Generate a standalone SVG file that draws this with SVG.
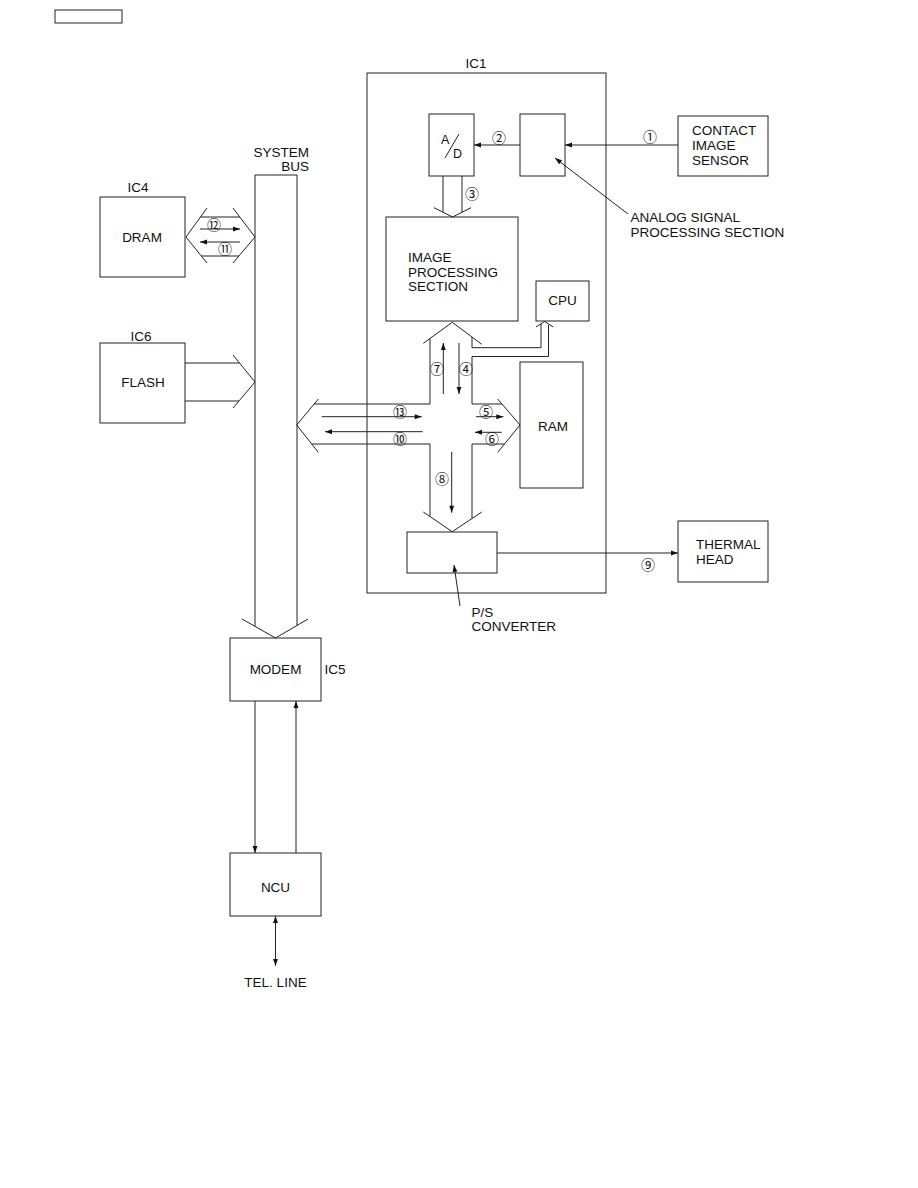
<svg xmlns="http://www.w3.org/2000/svg" width="918" height="1188" viewBox="0 0 918 1188">
<defs>
<style>
.b{fill:none;stroke:#222;stroke-width:1}
.l{fill:none;stroke:#222;stroke-width:1}
.t{font-family:"Liberation Sans",Arial,sans-serif;font-size:13.5px;fill:#111}
.m{text-anchor:middle}
.n{font-family:"Noto Sans CJK JP","DejaVu Sans",sans-serif;font-size:14px;fill:#111;text-anchor:middle;dominant-baseline:central}
</style>
<marker id="ah" viewBox="0 0 10 10" refX="10" refY="5" markerWidth="9" markerHeight="7" markerUnits="userSpaceOnUse" orient="auto-start-reverse">
<path d="M0,1.5 L10,5 L0,8.5 Z" fill="#111"/>
</marker>
</defs>
<rect width="918" height="1188" fill="#fff"/>

<g id="top-box"><rect class="b" x="55" y="10" width="67" height="13"/></g>

<g id="ic1"><rect class="b" x="367" y="73" width="239" height="520"/><text class="t m" x="476" y="68">IC1</text></g>

<g id="ad"><rect class="b" x="429" y="114" width="45" height="62"/>
<text class="t" x="441" y="143.5" style="font-size:12.5px">A</text>
<line class="l" x1="445" y1="158" x2="459" y2="134"/>
<text class="t" x="453" y="157.5" style="font-size:12.5px">D</text></g>

<g id="analog"><rect class="b" x="520" y="114" width="45" height="62"/>
<text class="t" x="630.5" y="222">ANALOG SIGNAL</text>
<text class="t" x="630.5" y="237">PROCESSING SECTION</text></g>

<g id="cis"><rect class="b" x="678" y="116" width="90" height="60"/>
<text class="t" x="692" y="135">CONTACT</text>
<text class="t" x="692" y="150">IMAGE</text>
<text class="t" x="692" y="165">SENSOR</text></g>

<g id="ips"><rect class="b" x="386" y="217" width="132" height="104"/>
<text class="t" x="408" y="262">IMAGE</text>
<text class="t" x="408" y="276.5">PROCESSING</text>
<text class="t" x="408" y="291">SECTION</text></g>

<g id="cpu"><rect class="b" x="536" y="281" width="53" height="40"/><text class="t m" x="562.5" y="305">CPU</text></g>

<g id="ram"><rect class="b" x="520" y="362" width="63" height="126"/><text class="t m" x="553" y="431">RAM</text></g>

<g id="ps"><rect class="b" x="407" y="532" width="90" height="41"/>
<text class="t" x="471.5" y="617">P/S</text>
<text class="t" x="471.5" y="631">CONVERTER</text></g>

<g id="thermal"><rect class="b" x="678" y="521" width="90" height="61"/>
<text class="t" x="696" y="549">THERMAL</text>
<text class="t" x="696" y="564">HEAD</text></g>

<g id="dram"><rect class="b" x="100" y="197" width="85" height="80"/>
<text class="t m" x="138" y="192">IC4</text>
<text class="t m" x="142" y="242">DRAM</text></g>

<g id="flash"><rect class="b" x="100" y="343" width="85" height="80"/>
<text class="t m" x="141" y="341">IC6</text>
<text class="t m" x="143" y="387">FLASH</text></g>

<g id="system-bus"><path class="b" d="M255,626 V175 H297 V626"/>
<text class="t" x="309" y="157" text-anchor="end">SYSTEM</text>
<text class="t" x="309" y="171" text-anchor="end">BUS</text></g>

<g id="modem"><rect class="b" x="230" y="638" width="91" height="63"/>
<text class="t m" x="275.5" y="674">MODEM</text>
<text class="t" x="324.5" y="674">IC5</text></g>

<g id="ncu"><rect class="b" x="230" y="853" width="91" height="63"/>
<text class="t m" x="275.5" y="891.5">NCU</text></g>

<g id="tel-line"><text class="t m" x="275.5" y="986.5">TEL. LINE</text></g>

<g id="connectors">
<line class="l" x1="678" y1="145" x2="565" y2="145" marker-end="url(#ah)"/>
<line class="l" x1="520" y1="145" x2="474" y2="145" marker-end="url(#ah)"/>
<line class="l" x1="628" y1="214" x2="555" y2="158" marker-end="url(#ah)"/>
<line class="l" x1="443" y1="176" x2="443" y2="212"/>
<line class="l" x1="462" y1="176" x2="462" y2="212"/>
<polyline class="l" points="434,207.7 452.5,217 471,207.7"/>

<polyline class="l" points="207,208 186,237 207,263"/>
<polyline class="l" points="233,208 255,237 233,263"/>
<line class="l" x1="200.5" y1="217" x2="239.8" y2="217"/>
<line class="l" x1="201.3" y1="256" x2="238.9" y2="256"/>
<line class="l" x1="200" y1="229" x2="240" y2="229" marker-end="url(#ah)"/>
<line class="l" x1="240" y1="242" x2="200" y2="242" marker-end="url(#ah)"/>

<line class="l" x1="185" y1="363" x2="239.5" y2="363"/>
<line class="l" x1="185" y1="401" x2="238.9" y2="401"/>
<polyline class="l" points="233,355 255,382 233,408"/>

<polyline class="l" points="242,619 275.5,638 308,619"/>

<polyline class="l" points="423.3,343.3 452.3,322.3 481.7,344.3"/>
<polyline class="l" points="318.3,399 296.7,425 318.3,452.3"/>
<polyline class="l" points="497.7,399 520,425 497.7,452.3"/>
<polyline class="l" points="423.3,512 452.3,531.7 481.7,512"/>
<path class="l" d="M430,338.5 V404 H314"/>
<path class="l" d="M311.7,444 H430 V516.5"/>
<path class="l" d="M472,518.5 V444 H504.5"/>
<path class="l" d="M502,404 H472 V356.5 H548.5 V325"/>
<path class="l" d="M472,337 V347.7 H541 V323.5"/>
<polyline class="l" points="536,327 544.5,321.5 553.3,327"/>

<line class="l" x1="443.3" y1="394" x2="443.3" y2="343" marker-end="url(#ah)"/>
<line class="l" x1="459" y1="343" x2="459" y2="394" marker-end="url(#ah)"/>
<line class="l" x1="321.7" y1="416.7" x2="421.7" y2="416.7" marker-end="url(#ah)"/>
<line class="l" x1="422.7" y1="431.7" x2="325" y2="431.7" marker-end="url(#ah)"/>
<line class="l" x1="476" y1="416.7" x2="503.3" y2="416.7" marker-end="url(#ah)"/>
<line class="l" x1="501.7" y1="432.3" x2="475" y2="432.3" marker-end="url(#ah)"/>
<line class="l" x1="451.7" y1="452" x2="451.7" y2="512.7" marker-end="url(#ah)"/>

<line class="l" x1="497" y1="553" x2="678" y2="553" marker-end="url(#ah)"/>
<line class="l" x1="460" y1="606" x2="454" y2="565" marker-end="url(#ah)"/>

<line class="l" x1="255" y1="701" x2="255" y2="853" marker-end="url(#ah)"/>
<line class="l" x1="296" y1="853" x2="296" y2="701" marker-end="url(#ah)"/>
<line class="l" x1="275.5" y1="916" x2="275.5" y2="966" marker-start="url(#ah)" marker-end="url(#ah)"/>
</g>

<g id="labels">
<text class="n" x="650" y="136">①</text>
<text class="n" x="499" y="137">②</text>
<text class="n" x="472" y="193">③</text>
<text class="n" x="466" y="368">④</text>
<text class="n" x="486" y="411">⑤</text>
<text class="n" x="492" y="438">⑥</text>
<text class="n" x="437" y="368">⑦</text>
<text class="n" x="442" y="478">⑧</text>
<text class="n" x="648" y="564">⑨</text>
<text class="n" x="400" y="438">⑩</text>
<text class="n" x="225" y="248">⑪</text>
<text class="n" x="214" y="224">⑫</text>
<text class="n" x="400" y="411">⑬</text>
</g>
</svg>
